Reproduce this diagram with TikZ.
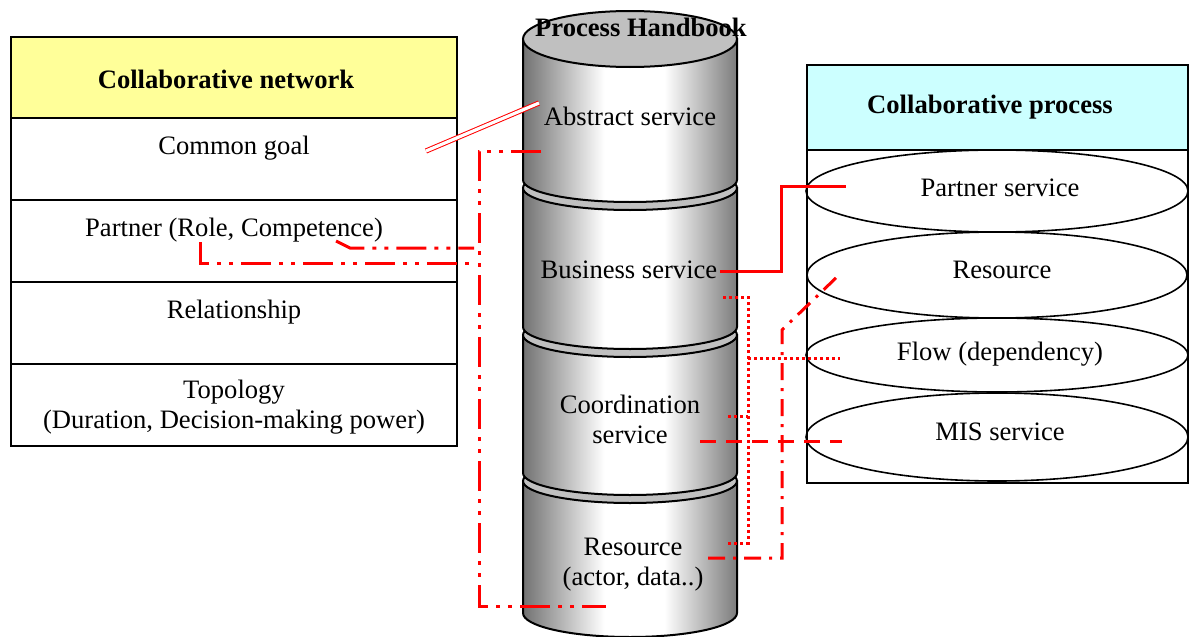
\documentclass[tikz,border=0pt]{standalone}
\usepackage{fontspec}
\setmainfont{Liberation Serif}
\definecolor{hdryellow}{HTML}{FFFF99}
\definecolor{hdrcyan}{HTML}{CCFFFF}
\definecolor{cylgrayL}{HTML}{727272}
\definecolor{cylgrayR}{HTML}{7C7C7C}
\definecolor{cyltop}{HTML}{C0C0C0}
\pgfdeclarehorizontalshading{cylshade}{100bp}{color(0bp)=(cylgrayL); color(25bp)=(cylgrayL); color(44bp)=(white); color(58bp)=(white); color(75bp)=(cylgrayR); color(100bp)=(cylgrayR)}
\begin{document}
\begin{tikzpicture}[x=0.5pt,y=-0.5pt,
  box/.style={draw=black, line width=1pt},
  lbl/.style={font=\fontsize{13.3}{15}\selectfont, align=center, inner sep=0pt},
  hdr/.style={font=\fontsize{13.3}{15}\selectfont\bfseries, align=center, inner sep=0pt},
  seg/.style={draw=black, line width=1pt, shading=cylshade},
  ring/.style={draw=black, line width=1pt, fill=cyltop},
  conn/.style={red, line width=1.5pt},
  cddot/.style={conn, dash pattern=on 15pt off 4pt on 2pt off 4pt on 2pt off 4pt},
  cdashdot/.style={conn, dash pattern=on 8.5pt off 4pt on 1.5pt off 4pt},
  cdots/.style={conn, dash pattern=on 1.5pt off 1.5pt},
  cdash/.style={conn, dash pattern=on 8pt off 5pt},
  cdouble/.style={red, line width=0.5pt, double distance=1.6pt}]
\useasboundingbox (0,0) rectangle (1189,637);
% ---------- left box ----------
\draw[box, fill=hdryellow] (11,37) rectangle (457,118);
\draw[box] (11,118) rectangle (457,200);
\draw[box] (11,200) rectangle (457,282);
\draw[box] (11,282) rectangle (457,364);
\draw[box] (11,364) rectangle (457,446);
\node[hdr] (cn) at (226,79) {Collaborative network};
\node[lbl] (goal) at (234,148) {Common goal};
\node[lbl] (partner) at (234,230) {Partner (Role, Competence)};
\node[lbl] (rel) at (234,312) {Relationship};
\node[lbl] (topo) at (234,407) {Topology\\(Duration, Decision-making power)};
% ---------- right box ----------
\draw[box, fill=hdrcyan] (807,65) rectangle (1188,150);
\draw[box] (807,150) rectangle (1188,483);
\node[hdr] (cp) at (990,107) {Collaborative process};
\draw[line width=0.8pt] (997,437) ellipse [x radius=95.5pt, y radius=22pt];
\draw[line width=0.8pt] (997,355) ellipse [x radius=95.5pt, y radius=18.5pt];
\draw[line width=0.8pt] (997,275) ellipse [x radius=95pt, y radius=21.5pt];
\draw[line width=0.8pt] (997,191) ellipse [x radius=95.5pt, y radius=20.5pt];
\node[lbl] (ps) at (1000,188) {Partner service};
\node[lbl] (rs) at (1002,270) {Resource};
\node[lbl] (fl) at (1000,354) {Flow (dependency)};
\node[lbl] (mis) at (1000,432) {MIS service};
% ---------- cylinder ----------
\shade[seg] (523,481) -- (523,613) arc[start angle=180, end angle=360, x radius=53.5pt, y radius=12pt] -- (737,481) -- cycle;
\draw[ring] (630,481) ellipse [x radius=53.5pt, y radius=11pt];
\shade[seg] (523,335) -- (523,473) arc[start angle=180, end angle=360, x radius=53.5pt, y radius=11pt] -- (737,335) -- cycle;
\draw[ring] (630,335) ellipse [x radius=53.5pt, y radius=11pt];
\shade[seg] (523,188) -- (523,327) arc[start angle=180, end angle=360, x radius=53.5pt, y radius=11pt] -- (737,188) -- cycle;
\draw[ring] (630,188) ellipse [x radius=53.5pt, y radius=11pt];
\shade[seg] (523,39) -- (523,180) arc[start angle=180, end angle=360, x radius=53.5pt, y radius=11pt] -- (737,39) -- cycle;
\draw[ring] (630,39) ellipse [x radius=53.5pt, y radius=14pt];
\node[hdr] (ph) at (641,27) {Process Handbook};
\node[lbl] (abs) at (630,116) {Abstract service};
\node[lbl] (bus) at (629,270) {Business service};
\node[lbl] (coord) at (630,419) {Coordination\\service};
\node[lbl] (res) at (633,565) {Resource\\(actor, data..)};
% ---------- connector end points ----------
\coordinate (goalR) at (426,151);
\coordinate (absL) at (539,103);
\coordinate (absB) at (541,151);
\coordinate (resB) at (606,606);
\coordinate (partA) at (200,242);
\coordinate (partB) at (336,241);
\coordinate (trunkA) at (474,263);
\coordinate (trunkB) at (474,248);
\coordinate (busR) at (720,271);
\coordinate (psL) at (846,186);
\coordinate (busD) at (723,297);
\coordinate (resD) at (725,543);
\coordinate (coordD) at (728,416);
\coordinate (flL) at (840,358);
\coordinate (coordR) at (700,441);
\coordinate (misL) at (842,441);
\coordinate (resR) at (708,558);
\coordinate (rsL) at (840,274);
% ---------- connectors ----------
\draw[cdouble] (goalR) -- (absL);
\draw[cddot] (absB) -- (479,151) -- (479,606) -- (resB);
\draw[cddot] (partA) -- (200,263) -- (trunkA);
\draw[cddot] (partB) -- (350,248) -- (trunkB);
\draw[conn] (busR) -- (781,271) -- (781,186) -- (psL);
\draw[cdots] (busD) -- (748,297) -- (748,543) -- (resD);
\draw[cdots] (coordD) -- (748,416);
\draw[cdots] (748,358) -- (flL);
\draw[cdash] (coordR) -- (misL);
\draw[cdashdot] (resR) -- (782,558) -- (782,330) -- (rsL);
\end{tikzpicture}
\end{document}
